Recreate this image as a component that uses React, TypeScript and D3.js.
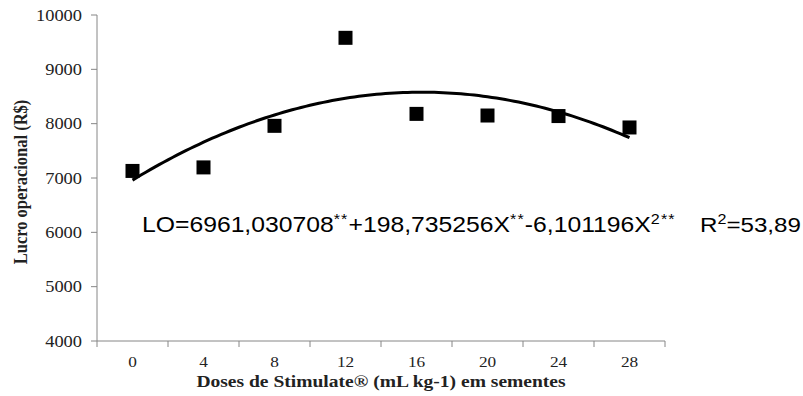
import React from "react";
import * as d3 from "d3";

// Stimulate doses (mL kg-1) and observed operating profit (R$)
const doses = [0, 4, 8, 12, 16, 20, 24, 28];
const lucro = [7130, 7195, 7960, 9580, 8180, 8150, 8140, 7930];
const yTicks = [4000, 5000, 6000, 7000, 8000, 9000, 10000];

// Fitted quadratic: LO = b0 + b1*X + b2*X^2
const coef = [6961.030708, 198.735256, -6.101196];

const W = 803;
const H = 396;
const left = 97;
const right = 665;
const top = 15;
const bottom = 341;

const SERIF = "'Liberation Serif', 'DejaVu Serif', serif";
const SANS = "'Liberation Sans', Arial, sans-serif";
// glyphs are slightly wider than tall throughout the figure
const SX = 1.15;

type STProps = {
  x: number;
  y: number;
  anchor?: "start" | "middle" | "end";
  family: string;
  children: React.ReactNode;
  [k: string]: any;
};

function WideText({ x, y, anchor = "start", family, children, ...rest }: STProps) {
  return (
    <g transform={`translate(${x},${y}) scale(${SX},1)`}>
      <text x={0} y={0} textAnchor={anchor} style={{ fontFamily: family }} {...rest}>
        {children}
      </text>
    </g>
  );
}

export default function App() {
  const x = d3.scaleBand<number>().domain(doses).range([left, right]).padding(0);
  const xc = (d: number) => (x(d) as number) + x.bandwidth() / 2;
  // continuous mapping of dose to pixel for the fitted curve
  const xl = d3.scaleLinear().domain([0, 28]).range([xc(0), xc(28)]);
  const y = d3.scaleLinear().domain([4000, 10000]).range([bottom, top]);

  const curvePts = d3.range(0, 28.001, 0.25).map((v) => [
    v,
    coef[0] + coef[1] * v + coef[2] * v * v,
  ]);
  const line = d3
    .line<number[]>()
    .x((d) => xl(d[0]))
    .y((d) => y(d[1]));

  const axisColor = "#868686";
  const sq = 14;
  const boundaries = doses.map((d) => x(d) as number).concat([right]);

  return (
    <svg width={W} height={H} style={{ position: "absolute", left: 0, top: 0 }}>
      <rect width={W} height={H} fill="#fff" />
      {/* y axis */}
      <line x1={left} x2={left} y1={top} y2={bottom} stroke={axisColor} strokeWidth={1} />
      {yTicks.map((t) => (
        <g key={t}>
          <line x1={left - 6} x2={left} y1={y(t)} y2={y(t)} stroke={axisColor} />
          <WideText
            x={left - 15}
            y={y(t) + 5.5}
            anchor="end"
            family={SERIF}
            fontSize={16}
            fill="#222"
          >
            {t}
          </WideText>
        </g>
      ))}
      {/* x axis */}
      <line x1={left} x2={right} y1={bottom} y2={bottom} stroke={axisColor} strokeWidth={1} />
      {boundaries.map((b, i) => (
        <line key={i} x1={b} x2={b} y1={bottom} y2={bottom + 6} stroke={axisColor} />
      ))}
      {doses.map((d) => (
        <WideText
          key={d}
          x={xc(d)}
          y={367}
          anchor="middle"
          family={SERIF}
          fontSize={15}
          fill="#222"
        >
          {d}
        </WideText>
      ))}
      {/* axis titles */}
      <WideText
        x={(left + right) / 2}
        y={387}
        anchor="middle"
        family={SERIF}
        fontWeight="bold"
        fontSize={17}
        fill="#222"
      >
        Doses de Stimulate® (mL kg-1) em sementes
      </WideText>
      <g transform={`translate(27, 182) rotate(-90) scale(1,${SX})`}>
        <text
          x={0}
          y={0}
          textAnchor="middle"
          style={{ fontFamily: SERIF }}
          fontWeight="bold"
          fontSize={16.5}
          fill="#222"
        >
          Lucro operacional (R$)
        </text>
      </g>
      {/* fitted curve */}
      <path d={line(curvePts) || ""} fill="none" stroke="#000" strokeWidth={3} />
      {/* observed means */}
      {doses.map((d, i) => (
        <rect
          key={d}
          x={xc(d) - sq / 2}
          y={y(lucro[i]) - sq / 2}
          width={sq}
          height={sq}
          fill="#000"
        />
      ))}
      {/* regression equation */}
      <WideText x={142} y={232} family={SANS} fontSize={21.5} fill="#000">
        LO=6961,030708
        <tspan fontSize={14} dy={-8} letterSpacing={1}>**</tspan>
        <tspan dy={8}>+198,735256X</tspan>
        <tspan fontSize={14} dy={-8} letterSpacing={1}>**</tspan>
        <tspan dy={8}>-6,101196X</tspan>
        <tspan fontSize={14} dy={-8} letterSpacing={1}>2**</tspan>
      </WideText>
      <WideText x={700} y={232} family={SANS} fontSize={21} fill="#000">
        R<tspan fontSize={14} dy={-8}>2</tspan>
        <tspan dy={8}>=53,89</tspan>
      </WideText>
    </svg>
  );
}
